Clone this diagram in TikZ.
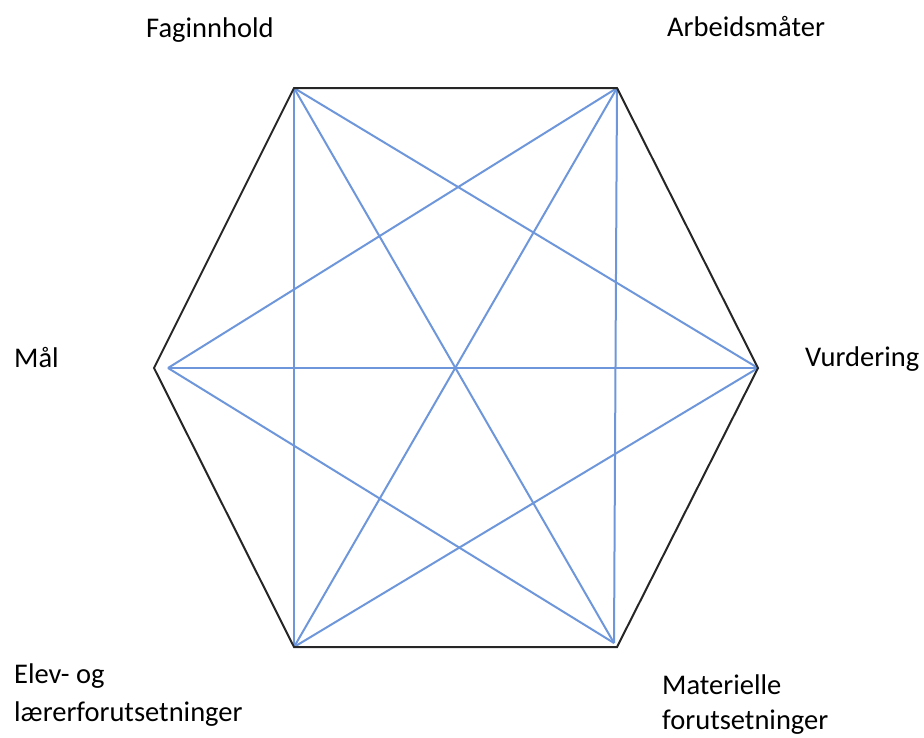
\documentclass[tikz,border=0pt]{standalone}
\usepackage{fontspec}
\setmainfont{Carlito}
\usepackage{tikz}
\usetikzlibrary{positioning}
\definecolor{lineblue}{RGB}{110,150,218}

\begin{document}
\begin{tikzpicture}[x=1pt,y=-1pt,font=\fontsize{28.5}{38}\selectfont,
   edge/.style={draw=black!85,line width=2pt,line join=miter},
   diag/.style={draw=lineblue,line width=2pt},
   lbl/.style={inner sep=0pt,align=left,anchor=base west}]
  \useasboundingbox (0,0) rectangle (924,737);
  % corners of the hexagon
  \coordinate (tl) at (294,88);
  \coordinate (tr) at (617,88);
  \coordinate (r)  at (758,368);
  \coordinate (br) at (617,647);
  \coordinate (bl) at (294,647);
  \coordinate (l)  at (154,368);
  \coordinate (li) at (168,368);
  \coordinate (bri) at (614,643);
  % labels
  \node[lbl] (fag) at (146,37) {Faginnhold};
  \node[lbl] (arb) at (667,36) {Arbeidsmåter};
  \node[lbl] (maal) at (14,367) {Mål};
  \node[lbl] (vur) at (805,366) {Vurdering};
  \node[lbl] (elev) at (14,683) {Elev- og};
  \node[lbl] (laerer) at (14,721) {lærerforutsetninger};
  \node[lbl] (mat) at (662,694) {Materielle};
  \node[lbl] (forut) at (662,729) {forutsetninger};
  % diagonals
  \draw[diag] (tl) -- (bl);
  \draw[diag] (tr) -- (bri);
  \draw[diag] (li) -- (r);
  \draw[diag] (tl) -- (r);
  \draw[diag] (tl) -- (bri);
  \draw[diag] (tr) -- (li);
  \draw[diag] (tr) -- (bl);
  \draw[diag] (li) -- (bri);
  \draw[diag] (bl) -- (r);
  % outline
  \draw[edge] (tl) -- (tr) -- (r) -- (br) -- (bl) -- (l) -- cycle;
\end{tikzpicture}
\end{document}
